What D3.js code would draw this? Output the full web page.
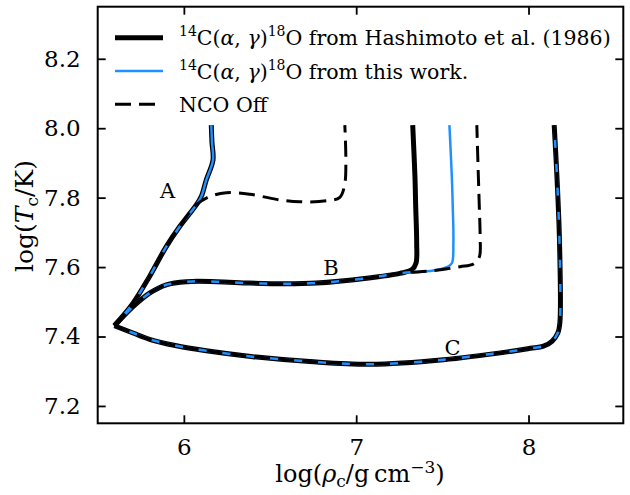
<!DOCTYPE html>
<html lang="en">
<head>
<meta charset="UTF-8">
<title>Central density - temperature tracks</title>
<script src="https://d3js.org/d3.v7.min.js"></script>
<style>
    body { margin: 0; background: #fff; }
    text { font-family: 'DejaVu Serif', serif; fill: #000; }
    .spine { fill: none; stroke: #000; stroke-width: 2; }
    .tick line { stroke: #000; stroke-width: 1.8; }
</style>
</head>
<body>
<svg id="chart"></svg>
<script>
// log(rho_c), log(T_c) pairs
// shared lower part of track A (all three runs)
const trackA = [[5.597, 7.431], [5.705, 7.496], [5.801, 7.573], [5.898, 7.659], [5.975, 7.716], [6.072, 7.779]];
const trackATop = [[6.101, 7.803], [6.130, 7.851], [6.169, 7.908], [6.163, 7.960], [6.159, 8.009]];
const ncoATop = [[6.150, 7.803], [6.246, 7.814], [6.382, 7.810], [6.537, 7.795], [6.673, 7.788],
                 [6.828, 7.791], [6.905, 7.801], [6.934, 7.841], [6.940, 7.908], [6.934, 8.009]];

// shared part of track B
const trackB = [[5.597, 7.431], [5.705, 7.486], [5.801, 7.525], [5.898, 7.549], [6.014, 7.558], [6.188, 7.558],
                [6.382, 7.554], [6.576, 7.552], [6.770, 7.554], [7.060, 7.568], [7.254, 7.582]];
const hashBTop = [[7.322, 7.592], [7.347, 7.611], [7.351, 7.669], [7.345, 7.780], [7.341, 7.860], [7.328, 8.009]];
const workBTop = [[7.448, 7.590], [7.526, 7.600], [7.555, 7.611], [7.564, 7.669], [7.560, 7.780], [7.555, 7.860], [7.541, 8.009]];
const ncoBTop = [[7.448, 7.590], [7.603, 7.601], [7.680, 7.609], [7.715, 7.630], [7.719, 7.688], [7.714, 7.780], [7.709, 7.860], [7.700, 8.009]];

// track C (all three runs agree)
const trackC = [[5.597, 7.431], [5.705, 7.410], [5.801, 7.392], [5.950, 7.374], [6.130, 7.359], [6.400, 7.342],
                [6.731, 7.328], [7.080, 7.320], [7.506, 7.333], [7.894, 7.357], [8.010, 7.366], [8.087, 7.372],
                [8.136, 7.386], [8.170, 7.410], [8.182, 7.440], [8.180, 7.669], [8.165, 7.860], [8.149, 8.009]];

const xTicks = [6, 7, 8];
const yTicks = [7.2, 7.4, 7.6, 7.8, 8.0, 8.2];

const trackLabels = [
    {name: "A", rho: 5.905, T: 7.800},
    {name: "B", rho: 6.853, T: 7.578},
    {name: "C", rho: 7.559, T: 7.348}
];

const width = 630, height = 495;
const margin = {top: 6.7, right: 6.7, bottom: 71.7, left: 97.7};

const svg = d3.select("#chart").attr("width", width).attr("height", height);

const x = d3.scaleLinear().domain([5.5, 8.55]).range([margin.left, width - margin.right]);
const y = d3.scaleLinear().domain([7.15, 8.35]).range([height - margin.bottom, margin.top]);

const line = d3.line()
    .x(d => x(d[0]))
    .y(d => y(d[1]))
    .curve(d3.curveCatmullRom.alpha(0.5));

const plot = svg.append("g");
plot.append("clipPath").attr("id", "clip")
    .append("rect")
    .attr("x", margin.left).attr("y", margin.top)
    .attr("width", width - margin.left - margin.right)
    .attr("height", height - margin.top - margin.bottom);

const curves = plot.append("g").attr("clip-path", "url(#clip)");

const styles = {
    hash: {stroke: "#000", width: 5, dash: null},
    work: {stroke: "#1e90ff", width: 2.5, dash: null},
    nco: {stroke: "#000", width: 3, dash: "16,8"}
};

const series = [
    {style: "hash", pts: trackA.concat(trackATop)},
    {style: "hash", pts: trackB.concat(hashBTop)},
    {style: "hash", pts: trackC},
    {style: "work", pts: trackA.concat(trackATop)},
    {style: "work", pts: trackB.concat(workBTop)},
    {style: "work", pts: trackC},
    {style: "nco", pts: trackA.concat(ncoATop)},
    {style: "nco", pts: trackB.concat(ncoBTop)},
    {style: "nco", pts: trackC}
];

curves.selectAll("path")
    .data(series)
    .join("path")
    .attr("d", d => line(d.pts))
    .attr("fill", "none")
    .attr("stroke", d => styles[d.style].stroke)
    .attr("stroke-width", d => styles[d.style].width)
    .attr("stroke-dasharray", d => styles[d.style].dash)
    .attr("stroke-linejoin", "round");

// track names
plot.selectAll(".trackname")
    .data(trackLabels)
    .join("text")
    .attr("class", "trackname")
    .attr("x", d => x(d.rho))
    .attr("y", d => y(d.T))
    .attr("text-anchor", "middle")
    .attr("font-size", 21)
    .text(d => d.name);

// axes, ticks pointing inwards on all four sides
const tickLen = 8;
svg.append("g").attr("transform", `translate(0,${y.range()[0]})`)
    .call(d3.axisBottom(x).tickValues(xTicks).tickSize(-tickLen).tickPadding(tickLen + 7).tickFormat(d3.format("d")))
    .call(g => g.select(".domain").remove())
    .selectAll("text").attr("font-size", 23);
svg.append("g").attr("transform", `translate(0,${y.range()[1]})`)
    .call(d3.axisTop(x).tickValues(xTicks).tickSize(-tickLen).tickFormat(""))
    .call(g => g.select(".domain").remove());
svg.append("g").attr("transform", `translate(${x.range()[0]},0)`)
    .call(d3.axisLeft(y).tickValues(yTicks).tickSize(-tickLen).tickPadding(tickLen + 9).tickFormat(d3.format(".1f")))
    .call(g => g.select(".domain").remove())
    .selectAll("text").attr("font-size", 23);
svg.append("g").attr("transform", `translate(${x.range()[1]},0)`)
    .call(d3.axisRight(y).tickValues(yTicks).tickSize(-tickLen).tickFormat(""))
    .call(g => g.select(".domain").remove());
svg.selectAll(".tick text").attr("fill", "#000");

svg.append("rect").attr("class", "spine")
    .attr("x", x.range()[0]).attr("y", y.range()[1])
    .attr("width", x.range()[1] - x.range()[0])
    .attr("height", y.range()[0] - y.range()[1]);

// axis labels
const xl = svg.append("text")
    .attr("x", 360)
    .attr("y", 482)
    .attr("text-anchor", "middle")
    .attr("font-size", 24);
xl.append("tspan").text("log(");
xl.append("tspan").attr("font-style", "italic").text("ρ");
xl.append("tspan").attr("font-size", 17).attr("dy", 5).text("c");
xl.append("tspan").attr("dy", -5).text("/g\u2009cm");
xl.append("tspan").attr("font-size", 17).attr("dy", -9).text("−3");
xl.append("tspan").attr("dy", 9).text(")");

const yl = svg.append("text")
    .attr("transform", `translate(33,216) rotate(-90)`)
    .attr("text-anchor", "middle")
    .attr("font-size", 25);
yl.append("tspan").text("log(");
yl.append("tspan").attr("font-style", "italic").text("T");
yl.append("tspan").attr("font-size", 17).attr("dy", 5).text("c");
yl.append("tspan").attr("dy", -5).text("/K)");

// legend
const legendItems = [
    {style: "hash", source: "from Hashimoto et al. (1986)"},
    {style: "work", source: "from this work."},
    {style: "nco", label: "NCO Off"}
];
const legend = svg.append("g");
const rows = legend.selectAll("g")
    .data(legendItems)
    .join("g")
    .attr("transform", (d, i) => `translate(0,${37.7 + i * 33.3})`);
rows.append("line")
    .attr("x1", 115).attr("x2", 163)
    .attr("stroke", d => styles[d.style].stroke)
    .attr("stroke-width", d => styles[d.style].width)
    .attr("stroke-dasharray", d => styles[d.style].dash);
rows.each(function(d) {
    const t = d3.select(this).append("text")
        .attr("x", 179).attr("y", 7.5)
        .attr("font-size", 20.5);
    if (d.label) { t.text(d.label); return; }
    t.append("tspan").attr("font-size", 14).attr("dy", -9).text("14");
    t.append("tspan").attr("dy", 9).text("C(");
    t.append("tspan").attr("font-style", "italic").text("α");
    t.append("tspan").text(", ");
    t.append("tspan").attr("font-style", "italic").text("γ");
    t.append("tspan").text(")");
    t.append("tspan").attr("font-size", 14).attr("dy", -9).text("18");
    t.append("tspan").attr("dy", 9).text("O " + d.source);
});
</script>
</body>
</html>
